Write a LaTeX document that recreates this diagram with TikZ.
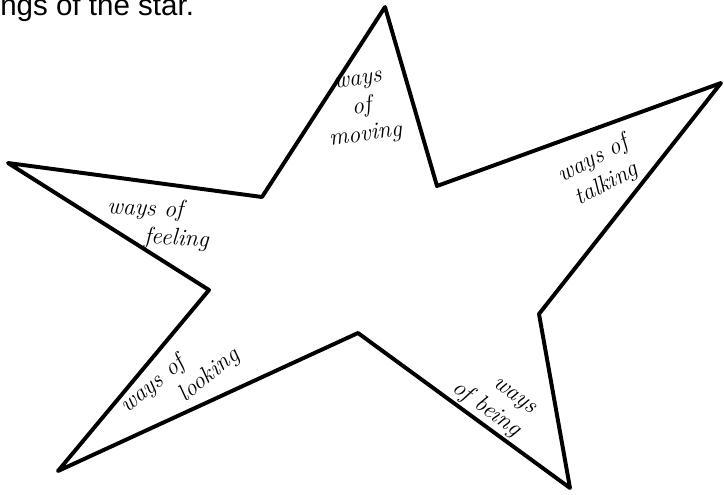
\documentclass[tikz,border=0pt]{standalone}
\usepackage{fontspec}
\newfontfamily\printfont{Liberation Sans}
\usetikzlibrary{calc}

\begin{document}
\begin{tikzpicture}[
  x=0.025cm, y=-0.025cm,
  outline/.style={line width=2.8pt, line join=round, line cap=round},
  hand/.style={font=\fontsize{17}{20}\selectfont\itshape, inner sep=0pt},
]
\useasboundingbox (0,0) rectangle (724,494);

% caption, cut off by the page edge
\node[anchor=base west, inner sep=0pt, font=\printfont\fontsize{21}{24}\selectfont] (caption) at (0,15) {ngs of the star.};

% points of the star
\coordinate (top) at (385,7);
\coordinate (innerTR) at (437,186);
\coordinate (right) at (721,83);
\coordinate (innerBR) at (539,314);
\coordinate (bottom) at (570,488);
\coordinate (innerB) at (358,333);
\coordinate (botleft) at (58,471);
\coordinate (innerBL) at (209,290);
\coordinate (left) at (8,163);
\coordinate (innerTL) at (262,197);

\draw[outline] (top) -- (innerTR) -- (right) -- (innerBR) -- (bottom) -- (innerB)
  -- (botleft) -- (innerBL) -- (left) -- (innerTL) -- cycle;

% labels in the arms
\node[hand, align=center, rotate=8] (moving) at (362,110) {ways\\of\\moving};
\node[hand, align=center, rotate=28] (talking) at (600,172) {ways of\\talking};
\node[hand, align=left, rotate=-3] (feeling) at (158,224) {ways of\\\hspace*{1.6em}feeling};
\node[hand, align=left, rotate=39] (looking) at (180,381) {ways of\\\hspace*{2.2em}looking};
\node[hand, align=right, rotate=-36] (being) at (493,400) {ways\\of being};

\end{tikzpicture}
\end{document}
